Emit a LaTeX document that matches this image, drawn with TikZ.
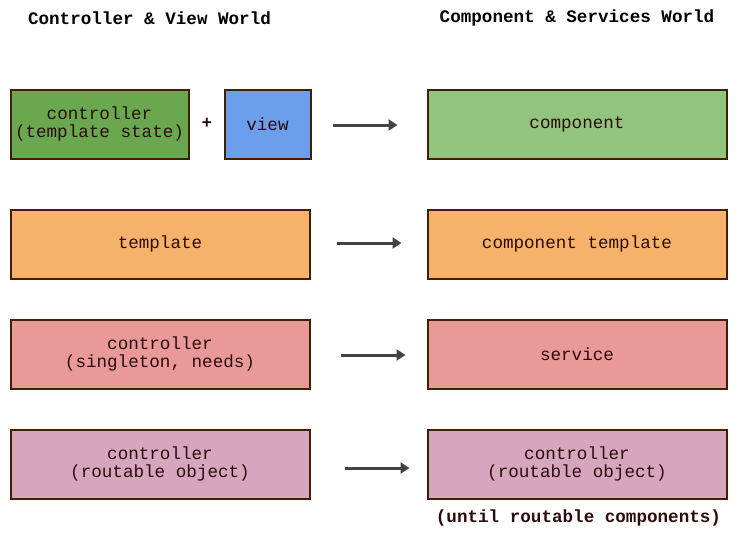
\documentclass[tikz,border=0pt]{standalone}
\usepackage{fontspec}
\setmonofont{Liberation Mono}
\usetikzlibrary{arrows.meta}
\definecolor{boxline}{HTML}{3F1F05}
\definecolor{inktext}{HTML}{2A0C0C}
\definecolor{arrowgray}{HTML}{434343}
\definecolor{ctrlgreen}{HTML}{6AA84F}
\definecolor{compgreen}{HTML}{93C47D}
\definecolor{viewblue}{HTML}{6D9EEB}
\definecolor{tmplorange}{HTML}{F6B26B}
\definecolor{servred}{HTML}{EA9999}
\definecolor{routepink}{HTML}{D5A6BD}
\tikzset{
  worldbox/.style={draw=boxline, line width=2pt, text=inktext, align=center,
    minimum height=69pt, inner sep=0pt, font=\ttfamily\fontsize{17.6}{18}\selectfont},
  wide/.style={worldbox, minimum width=299pt},
  heading/.style={text=black, font=\ttfamily\bfseries\fontsize{17.6}{18}\selectfont},
  mapsto/.style={draw=arrowgray, line width=3pt, -{Triangle[length=9pt,width=11pt]}}
}
\begin{document}
\begin{tikzpicture}[x=1pt,y=-1pt]
            \useasboundingbox (0,0) rectangle (756,547);
            % headings
            \node[heading] (oldworld) at (149.5,18) {Controller \& View World};
            \node[heading] (newworld) at (577,18) {Component \& Services World};
            % left column
            \node[worldbox, fill=ctrlgreen, minimum width=178pt] (ctrl) at (99.5,124) {controller\\(template state)};
            \node[heading, text=inktext] (plus) at (207,123) {+};
            \node[worldbox, fill=viewblue, minimum width=86pt] (view) at (267.5,124) {view};
            \node[wide, fill=tmplorange] (tmpl) at (160,244) {template};
            \node[wide, fill=servred] (single) at (160,354) {controller\\(singleton, needs)};
            \node[wide, fill=routepink] (route) at (160,464) {controller\\(routable object)};
            % right column
            \node[wide, fill=compgreen] (comp) at (577,124) {component};
            \node[wide, fill=tmplorange] (comptmpl) at (577,244) {component template};
            \node[wide, fill=servred] (serv) at (577,354) {service};
            \node[wide, fill=routepink] (route2) at (577,464) {controller\\(routable object)};
            \node[heading, text=inktext] (note) at (578.5,518) {(until routable components)};
            % arrows
            \draw[mapsto, shorten <=21pt, shorten >=29pt] ([yshift=-1pt]view.east) -- ([yshift=-1pt]comp.west);
            \draw[mapsto, shorten <=26pt, shorten >=25pt] ([yshift=1pt]tmpl.east) -- ([yshift=1pt]comptmpl.west);
            \draw[mapsto, shorten <=30pt, shorten >=21pt] ([yshift=-1pt]single.east) -- ([yshift=-1pt]serv.west);
            \draw[mapsto, shorten <=34pt, shorten >=17pt] ([yshift=-4pt]route.east) -- ([yshift=-4pt]route2.west);
        \end{tikzpicture}
\end{document}
